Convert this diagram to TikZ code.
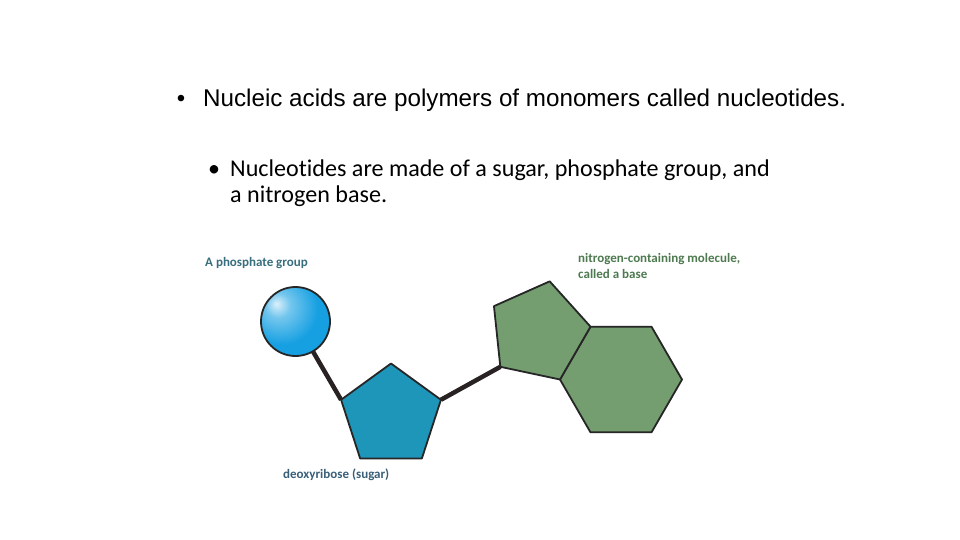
\documentclass[tikz,border=0pt]{standalone}
\usepackage{fontspec}
\setmainfont[Ligatures=NoCommon]{Carlito}
\newfontfamily\arialfont{Liberation Sans}
\usetikzlibrary{positioning,shapes.geometric,calc}

\definecolor{phosblue}{RGB}{22,160,226}
\definecolor{sugarblue}{RGB}{30,150,185}
\definecolor{basegreen}{RGB}{116,158,112}
\definecolor{bondgray}{RGB}{40,34,34}
\definecolor{phoslabel}{RGB}{56,110,125}
\definecolor{baselabel}{RGB}{78,122,80}
\definecolor{sugarlabel}{RGB}{58,95,120}

\pgfdeclareradialshading{phosball}{\pgfpoint{-14bp}{13bp}}{color(0bp)=(white!85!phosblue); color(9bp)=(phosblue!60!white); color(26bp)=(phosblue); color(90bp)=(phosblue)}

\tikzset{
  bond/.style={draw=bondgray, line width=4.5pt},
  ring/.style={draw=black!85, line width=1.8pt, line join=round, inner sep=0pt, outer sep=0pt},
  molname/.style={font=\fontsize{13}{16}\selectfont\bfseries, align=left, inner sep=0pt}
}

\begin{document}
\begin{tikzpicture}[x=1pt,y=-1pt]
	\useasboundingbox[fill=white] (0,0) rectangle (960,540);
	% bullet text
	\node[anchor=base west, inner sep=0pt, font=\arialfont\fontsize{24.2}{28}\selectfont] (line1) at (203,107) {Nucleic acids are polymers of monomers called nucleotides.};
	\node[anchor=base, inner sep=0pt, font=\arialfont\fontsize{24}{28}\selectfont] (dot1) at (181,107) {\textbullet};
	\node[anchor=base west, inner sep=0pt, align=left, font=\fontsize{24.1}{25}\selectfont] (line2) at (230,202) {Nucleotides are made of a sugar, phosphate group, and\\a nitrogen base.};
	\node[anchor=base, inner sep=0pt, font=\fontsize{24}{25}\selectfont] (dot2) at (214,177) {\textbullet};
	% molecule
	\node[circle, ring, minimum size=69pt, shading=phosball] (phos) at (295.5,321.5) {};
	\node[regular polygon, regular polygon sides=5, ring, minimum size=105pt, fill=sugarblue] (sugar) at (391,416) {};
	\node[regular polygon, regular polygon sides=6, ring, minimum size=122pt, fill=basegreen] (hex) at (621,379.5) {};
	\coordinate (b1) at (hex.180);
	\coordinate (b2) at (hex.120);
	\coordinate (b3) at ($(b2)!1!-108:(b1)$);
	\coordinate (b4) at ($(b3)!1!-108:(b2)$);
	\coordinate (b5) at ($(b4)!1!-108:(b3)$);
	\draw[ring, fill=basegreen] (b1) -- (b2) -- (b3) -- (b4) -- (b5) -- cycle;
	\draw[bond] (phos) -- (sugar.corner 2);
	\draw[bond] (sugar.corner 5) -- (b5);
	% names
	\node[molname, text=phoslabel, anchor=west] (phoslbl) at (205,263) {A phosphate group};
	\node[molname, text=baselabel, anchor=north west] (baselbl) at (578,253.5) {nitrogen-containing molecule,\\called a base};
	\node[molname, text=sugarlabel, anchor=west] (sugarlbl) at (283,475) {deoxyribose (sugar)};
\end{tikzpicture}
\end{document}
